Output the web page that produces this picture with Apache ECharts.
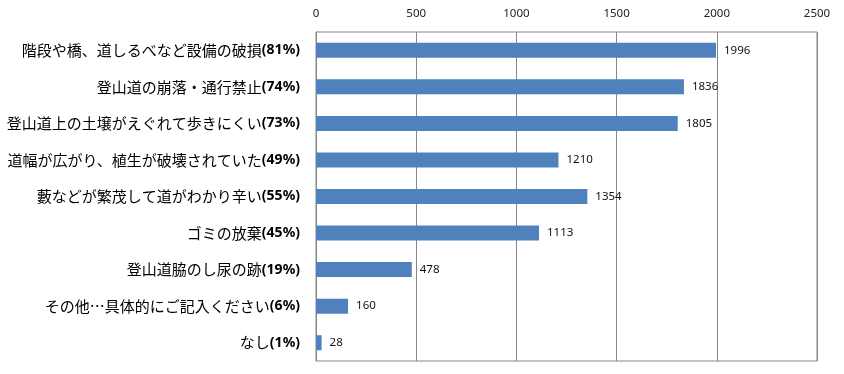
<!DOCTYPE html>
<html><head><meta charset="utf-8">
<script src="https://cdn.jsdelivr.net/npm/echarts@6/dist/echarts.min.js"></script>
<style>html,body{margin:0;padding:0;background:#fff}#c{width:844px;height:374px}</style>
</head><body><div id="c"></div>
<script>
const categories = ["階段や橋、道しるべなど設備の破損","登山道の崩落・通行禁止","登山道上の土壌がえぐれて歩きにくい","道幅が広がり、植生が破壊されていた","藪などが繁茂して道がわかり辛い","ゴミの放棄","登山道脇のし尿の跡","その他…具体的にご記入ください","なし"];
const percents = ["81%","74%","73%","49%","55%","45%","19%","6%","1%"];
const values = [1996,1836,1805,1210,1354,1113,478,160,28];
const xTicks = [0,500,1000,1500,2000,2500];

const chart = echarts.init(document.getElementById('c'));
chart.setOption({
  animation:false,
  grid:{left:316,top:32,width:501,height:329,show:true,borderColor:'#878787',borderWidth:1},
  xAxis:{type:'value',position:'top',min:xTicks[0],max:xTicks[xTicks.length-1],interval:500,
    axisLine:{show:false},axisTick:{show:false},
    axisLabel:{margin:12,fontSize:11.5,color:'#222',fontFamily:'Noto Sans',formatter:v=>String(v)},
    splitLine:{show:true,lineStyle:{color:'#878787',width:1}}},
  yAxis:{type:'category',inverse:true,data:categories.map((c,i)=>c+'|'+percents[i]),
    axisLine:{lineStyle:{color:'#878787'}},
    axisTick:{inside:true,length:5,lineStyle:{color:'#878787'}},
    axisLabel:{margin:16,formatter:v=>{const p=v.split('|');return '{a|'+p[0]+'}{b|('+p[1]+')}';},
      rich:{a:{fontSize:15,color:'#000',fontFamily:'Noto Sans CJK JP'},b:{fontSize:14,fontWeight:'bold',color:'#000',fontFamily:'Noto Sans'}}}},
  series:[{type:'bar',data:values,barWidth:15,itemStyle:{color:'#4F81BD'},
    label:{show:true,position:'right',distance:8,fontSize:11.5,color:'#111',fontFamily:'Noto Sans'}}]
});
</script></body></html>
